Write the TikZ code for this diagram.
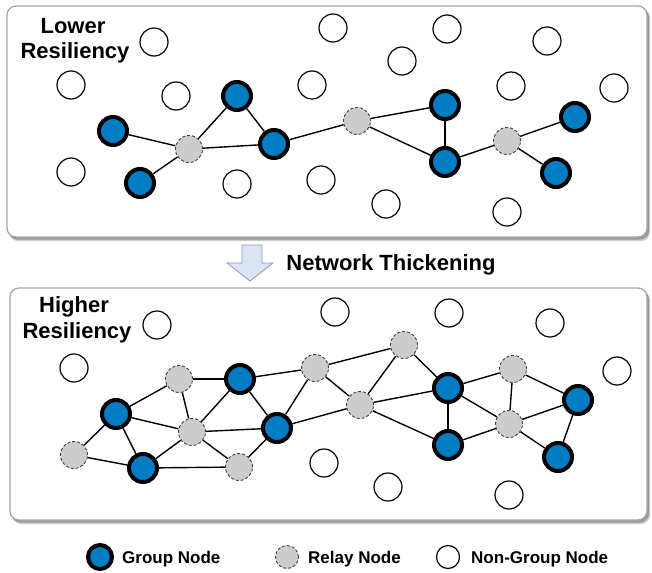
\documentclass[tikz,border=0pt]{standalone}
\usepackage{fontspec}
\setmainfont{Liberation Sans}
\begin{document}
\begin{tikzpicture}[x=1pt,y=-1pt,
  grp/.style={circle,draw=black,line width=4pt,fill=grpblue,minimum size=28pt,inner sep=0pt},
  rly/.style={circle,draw=black!75,line width=0.9pt,dash pattern=on 3pt off 2pt,fill=black!20,minimum size=27pt,inner sep=0pt},
  ngn/.style={circle,draw=black,line width=1.2pt,fill=white,minimum size=28pt,inner sep=0pt},
  lnk/.style={draw=black,line width=1.4pt},
  panel/.style={draw=black!35,line width=1.3pt,fill=white,rounded corners=9pt},
  shad/.style={fill=black!40,rounded corners=9pt},
  title/.style={font=\fontsize{22}{25}\selectfont\bfseries,anchor=base,inner sep=0pt},
  legtext/.style={font=\fontsize{17}{20}\selectfont\bfseries,anchor=base west,inner sep=0pt}
]
\definecolor{grpblue}{RGB}{0,125,196}
\definecolor{arrfill}{RGB}{220,227,245}
\definecolor{arrdraw}{RGB}{140,155,180}
\useasboundingbox (0,0) rectangle (652,572);

% panels
\fill[shad,opacity=0.5] (9,9) rectangle (650,241);
\fill[shad] (8.5,8) rectangle (649,239.5);
\path[panel] (7,6) rectangle (647,237);
\fill[shad,opacity=0.5] (12,291) rectangle (650,524);
\fill[shad] (11.5,290) rectangle (649,522.5);
\path[panel] (10,288) rectangle (647,520);

% titles
\node[title] (tlow1) at (73,34) {Lower};
\node[title] (tlow2) at (75,59) {Resiliency};
\node[title] (thigh1) at (74,312) {Higher};
\node[title] (thigh2) at (77,338) {Resiliency};

% arrow
\filldraw[fill=arrfill,draw=arrdraw,line width=0.8pt]
  (242,245) -- (262,245) -- (262,263) -- (273,263) -- (250,281) -- (227,263) -- (242,263) -- cycle;
\node[title] (nt) at (391,270) {Network Thickening};

% ---- top panel nodes
\foreach \n/\p in {t1/{154,42},t2/{71,85},t3/{176,96},t4/{312,85},t5/{71,172},t6/{237,184},t7/{321,180},
  t8/{333,28},t9/{447,29},t10/{402,61},t11/{547,41},t12/{511,86},t13/{614,88},t14/{386,204},t15/{507,212}}
  \node[ngn] (\n) at (\p) {};
\node[grp] (ga) at (113,131) {};
\node[grp] (gb) at (237,96) {};
\node[grp] (gc) at (274,144) {};
\node[grp] (gd) at (140,183) {};
\node[grp] (ge) at (445,105) {};
\node[grp] (gf) at (445,162) {};
\node[grp] (gg) at (575,117) {};
\node[grp] (gh) at (556,173) {};
\node[rly] (ra) at (189,149) {};
\node[rly] (rb) at (357,121) {};
\node[rly] (rc) at (507,141) {};
\foreach \a/\b in {ga/ra,gd/ra,ra/gb,gb/gc,ra/gc,gc/rb,rb/ge,rb/gf,ge/gf,gf/rc,rc/gg,rc/gh}
  \draw[lnk] (\a) -- (\b);

% ---- bottom panel nodes
\foreach \n/\p in {b1/{157,325},b2/{74,368},b3/{335,312},b4/{449,313},b5/{550,323},b6/{617,371},
  b7/{324,463},b8/{388,487},b9/{509,495}}
  \node[ngn] (\n) at (\p) {};
\node[rly] (r1) at (179,379) {};
\node[rly] (r2) at (192,432) {};
\node[rly] (r3) at (74,455) {};
\node[rly] (r4) at (239,467) {};
\node[rly] (r5) at (315,368) {};
\node[rly] (r6) at (404,345) {};
\node[rly] (r7) at (360,405) {};
\node[rly] (r8) at (513,369) {};
\node[rly] (r9) at (509,424) {};
\node[grp] (g1) at (116,414) {};
\node[grp] (g2) at (240,379) {};
\node[grp] (g3) at (277,428) {};
\node[grp] (g4) at (143,468) {};
\node[grp] (g5) at (448,388) {};
\node[grp] (g6) at (448,445) {};
\node[grp] (g7) at (578,400) {};
\node[grp] (g8) at (558,457) {};
\foreach \a/\b in {g1/r1,g1/r2,g1/r3,g1/g4,r3/g4,g4/r2,g4/r4,r1/g2,r1/r2,r2/g2,r2/g3,r2/r4,r4/g3,g2/g3,
  g2/r5,g3/r5,g3/r7,r5/r6,r5/r7,r7/r6,r6/g5,r7/g5,r7/g6,g5/g6,g5/r8,g5/r9,g6/r9,r8/r9,r8/g7,r9/g7,r9/g8,g7/g8}
  \draw[lnk] (\a) -- (\b);

% ---- legend
\node[grp,minimum size=24pt] (lg) at (100,557) {};
\node[legtext] (lgt) at (122,563) {Group Node};
\node[rly,minimum size=23pt] (lr) at (287,557) {};
\node[legtext] (lrt) at (308,563) {Relay Node};
\node[ngn,minimum size=23pt] (ln) at (448,557) {};
\node[legtext] (lnt) at (471,563) {Non-Group Node};
\end{tikzpicture}
\end{document}
